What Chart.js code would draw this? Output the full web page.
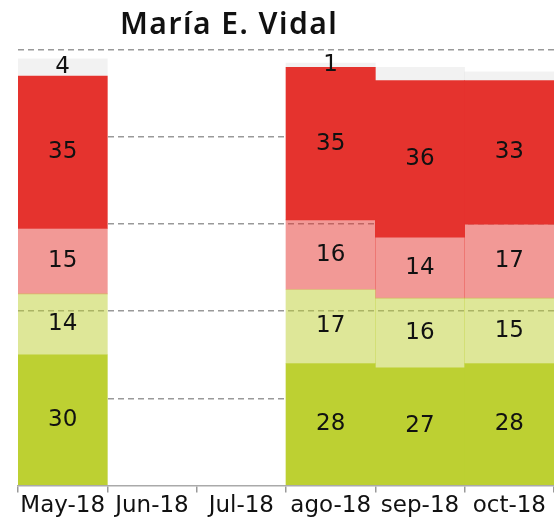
<!DOCTYPE html>
<html>
<head>
<meta charset="utf-8">
<script src="https://cdn.jsdelivr.net/npm/chart.js@4"></script>
<style>
body{margin:0;background:#fff;}
#wrap{position:relative;width:554px;height:528px;}
#title{position:absolute;left:120px;top:8px;font-family:"Noto Sans";font-weight:600;font-size:30px;line-height:30px;letter-spacing:1.5px;color:#111;white-space:nowrap;}
</style>
</head>
<body>
<div id="wrap">
<div id="title">María E. Vidal</div>
<canvas id="chart" width="554" height="528"></canvas>
</div>
<script>

const months = ["May-18","Jun-18","Jul-18","ago-18","sep-18","oct-18"];

// stacked from bottom to top
const muyPositiva = [30,null,null,28,27,28];
const positiva = [14,null,null,17,16,15];
const negativa = [15,null,null,16,14,17];
const muyNegativa = [35,null,null,35,36,33];
const nsnc = [4,null,null,1,3,2];
const nsncShown = [true,false,false,true,false,false];

const yTicks = [0,20,40,60,80,100];

const green = "rgb(189,208,50)";
const red = "rgb(229,51,46)";

// writes the value in the middle of each segment
const valueLabels = {
  id:"valueLabels",
  afterDatasetsDraw(chart){
    const ctx = chart.ctx;
    ctx.save();
    ctx.font = "23px 'DejaVu Sans'";
    ctx.fillStyle = "#111";
    ctx.textAlign = "center";
    ctx.textBaseline = "middle";
    chart.data.datasets.forEach(function(ds,i){
      const meta = chart.getDatasetMeta(i);
      meta.data.forEach(function(bar,j){
        const v = ds.data[j];
        if(v === null) return;
        if(ds.shown && !ds.shown[j]) return;
        ctx.fillText(String(v), bar.x, (bar.y + bar.base)/2);
      });
    });
    ctx.restore();
  }
};

new Chart(document.getElementById("chart"),{
  type:"bar",
  data:{
    labels:months,
    datasets:[
      {label:"muy positiva",data:muyPositiva,backgroundColor:green},
      {label:"positiva",data:positiva,backgroundColor:"rgba(189,208,50,0.5)"},
      {label:"negativa",data:negativa,backgroundColor:"rgba(229,51,46,0.5)"},
      {label:"muy negativa",data:muyNegativa,backgroundColor:red},
      {label:"ns/nc",data:nsnc,backgroundColor:"rgba(0,0,0,0.05)",shown:nsncShown}
    ]
  },
  options:{
    responsive:false,
    animation:false,
    layout:{padding:{left:18,right:0,top:50,bottom:8}},
    datasets:{bar:{barPercentage:1,categoryPercentage:1,borderWidth:0}},
    plugins:{legend:{display:false},tooltip:{enabled:false}},
    scales:{
      x:{
        stacked:true,
        grid:{drawOnChartArea:false,tickLength:7,color:"#999",lineWidth:1.5},
        border:{color:"#aaa",width:1.5},
        ticks:{color:"#111",padding:0,font:{family:"DejaVu Sans",size:23},maxRotation:0,autoSkip:false}
      },
      y:{
        stacked:true,
        min:0,
        max:100,
        afterBuildTicks(axis){ axis.ticks = yTicks.map(function(v){ return {value:v}; }); },
        ticks:{display:false},
        grid:{drawTicks:false,lineWidth:1.5,color:function(c){ return c.tick && c.tick.value === 0 ? "rgba(0,0,0,0)" : "#999"; }},
        border:{display:false,dash:[6,4]}
      }
    }
  },
  plugins:[valueLabels]
});
</script>
</body>
</html>
